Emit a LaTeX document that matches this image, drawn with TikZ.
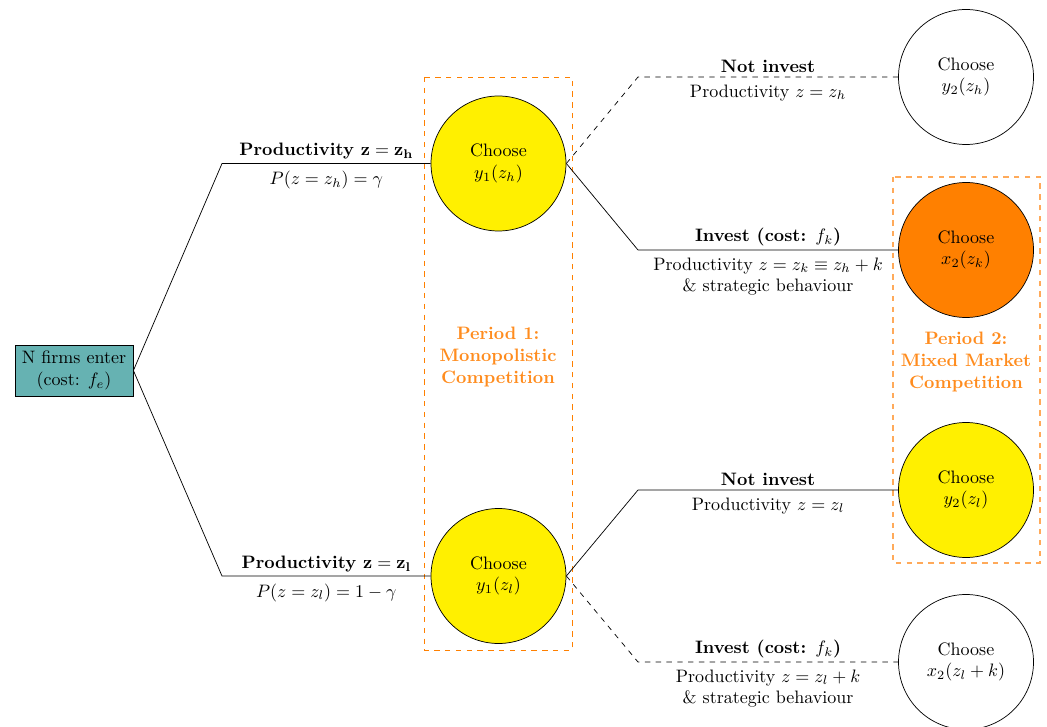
\documentclass[tikz,border=0pt]{standalone}
\usepackage{amsmath}
\definecolor{myyellow}{RGB}{255,240,0}
\definecolor{lightorange}{RGB}{255,170,90}
\definecolor{ptext}{RGB}{255,140,30}
\begin{document}
\begin{tikzpicture}[x=0.5556pt,y=-0.5556pt,
  choice/.style={circle,draw,minimum size=75pt,inner sep=0pt,align=center},
  entrybox/.style={rectangle,draw,fill=teal!60,minimum width=65.6pt,minimum height=28.3pt,inner sep=1pt,align=center},
  periodtext/.style={text=ptext,font=\bfseries,align=center},
  labup/.style={inner sep=2pt,align=center,midway,above},
  labdn/.style={inner sep=4pt,align=center,midway,below}]
\useasboundingbox (0,0) rectangle (1047,727);

% period boxes
\draw[draw=orange,dashed] (424,77) rectangle (572,650);
\draw[draw=lightorange,dashed,line width=0.8pt] (893,177) rectangle (1040,563);
\node[periodtext] (p1) at (498,357) {Period 1:\\Monopolistic\\Competition};
\node[periodtext] (p2) at (966,362) {Period 2:\\Mixed Market\\Competition};

% nodes
\node[entrybox] (start) at (74,370.5) {N firms enter\\(cost: $f_e$)};
\node[choice,fill=myyellow] (c1h) at (498.5,163.5) {Choose\\$y_1(z_h)$};
\node[choice,fill=myyellow] (c1l) at (498.5,576) {Choose\\$y_1(z_l)$};
\node[choice,fill=white] (c2hn) at (966,77) {Choose\\$y_2(z_h)$};
\node[choice,fill=orange] (c2hi) at (966,250) {Choose\\$x_2(z_k)$};
\node[choice,fill=myyellow] (c2ln) at (966,490) {Choose\\$y_2(z_l)$};
\node[choice,fill=white] (c2li) at (966,662) {Choose\\$x_2(z_l+k)$};

\coordinate (kh) at (222,163.5);
\coordinate (kl) at (222,576);
\coordinate (khn) at (638,77);
\coordinate (khi) at (638,250);
\coordinate (kln) at (638,490);
\coordinate (kli) at (638,662);

% connectors
\draw (start.east) -- (kh) -- (c1h.west)
  node[labup] {\textbf{Productivity $\mathbf{z=z_h}$}}
  node[labdn] {$P(z=z_h)=\gamma$};
\draw (start.east) -- (kl) -- (c1l.west)
  node[labup] {\textbf{Productivity $\mathbf{z=z_l}$}}
  node[labdn] {$P(z=z_l)=1-\gamma$};

\draw[dashed] (c1h.east) -- (khn) -- (c2hn.west)
  node[labup] {\textbf{Not invest}}
  node[labdn] {Productivity $z=z_h$};
\draw (c1h.east) -- (khi) -- (c2hi.west)
  node[labup] {\textbf{Invest (cost: }$f_k$\textbf{)}}
  node[labdn] {Productivity $z=z_k\equiv z_h+k$\\\& strategic behaviour};
\draw (c1l.east) -- (kln) -- (c2ln.west)
  node[labup] {\textbf{Not invest}}
  node[labdn] {Productivity $z=z_l$};
\draw[dashed] (c1l.east) -- (kli) -- (c2li.west)
  node[labup] {\textbf{Invest (cost: }$f_k$\textbf{)}}
  node[labdn] {Productivity $z=z_l+k$\\\& strategic behaviour};
\end{tikzpicture}
\end{document}
